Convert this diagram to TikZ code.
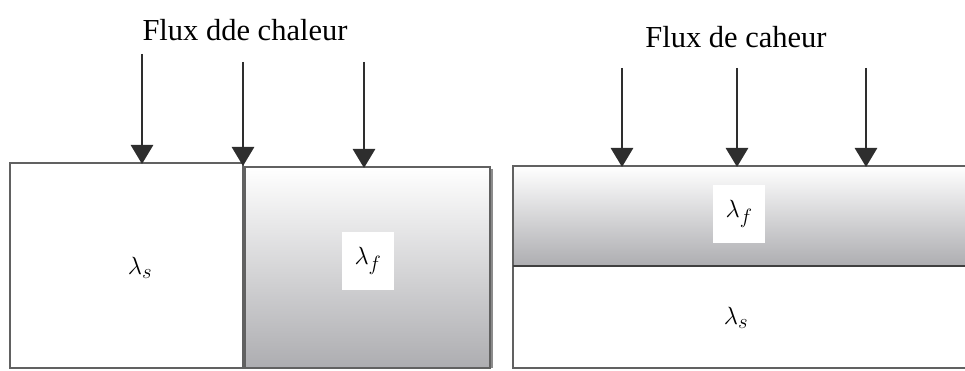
\documentclass[tikz,border=0pt]{standalone}
\usepackage{fontspec}
\setmainfont{Liberation Serif}
\usetikzlibrary{arrows.meta,shadings}
\begin{document}
\begin{tikzpicture}[x=1pt,y=-1pt,
  slab/.style={draw=black!62, line width=1.8pt, inner sep=0pt, outer sep=0pt},
  whiteslab/.style={slab, fill=white},
  grayslab/.style={slab, top color=white, bottom color=black!33!blue!3!white!70!black},
  flux/.style={draw=black!82, line width=2.8pt, -{Triangle[width=22pt,length=19pt]}},
  title/.style={font=\fontsize{30.5}{34}\selectfont, inner sep=0pt},
  lam/.style={font=\fontsize{30}{32}\selectfont, inner sep=0pt},
  lambox/.style={lam, fill=white, minimum width=52pt, minimum height=58pt}
]
\useasboundingbox (0,0) rectangle (965,371);
% left diagram
\node[grayslab, anchor=north west, minimum width=245pt, minimum height=201pt] (lf) at (245,167) {};
\draw[black!45, line width=2pt] (492,169) -- (492,368);
\node[whiteslab, anchor=north west, minimum width=233pt, minimum height=205pt] (ls) at (10,163) {};
\node[lam] (lsl) at (140,268) {$\lambda_s$};
\node[lambox] (lfl) at (368,261) {$\lambda_f$};
\node[title] (t1) at (245,30) {Flux dde chaleur};
\coordinate (a1s) at (142,54);
\coordinate (a1e) at (142,164);
\coordinate (a2s) at (243,62);
\coordinate (a2e) at (243,166);
\coordinate (a3s) at (364,62);
\coordinate (a3e) at (364,168);
\draw[flux] (a1s) -- (a1e);
\draw[flux] (a2s) -- (a2e);
\draw[flux] (a3s) -- (a3e);
% right diagram
\node[grayslab, anchor=north west, minimum width=460pt, minimum height=100pt] (rf) at (513,166) {};
\node[whiteslab, anchor=north west, minimum width=460pt, minimum height=102pt] (rs) at (513,266) {};
\draw[black!75, line width=2pt] (rf.south west) -- (rf.south east);
\node[lambox] (rfl) at (739,214) {$\lambda_f$};
\node[lam] (rsl) at (736,318) {$\lambda_s$};
\node[title] (t2) at (736,37) {Flux de caheur};
\coordinate (b1s) at (622,68);
\coordinate (b1e) at (622,167);
\coordinate (b2s) at (737,68);
\coordinate (b2e) at (737,167);
\coordinate (b3s) at (866,68);
\coordinate (b3e) at (866,167);
\draw[flux] (b1s) -- (b1e);
\draw[flux] (b2s) -- (b2e);
\draw[flux] (b3s) -- (b3e);
\end{tikzpicture}
\end{document}
